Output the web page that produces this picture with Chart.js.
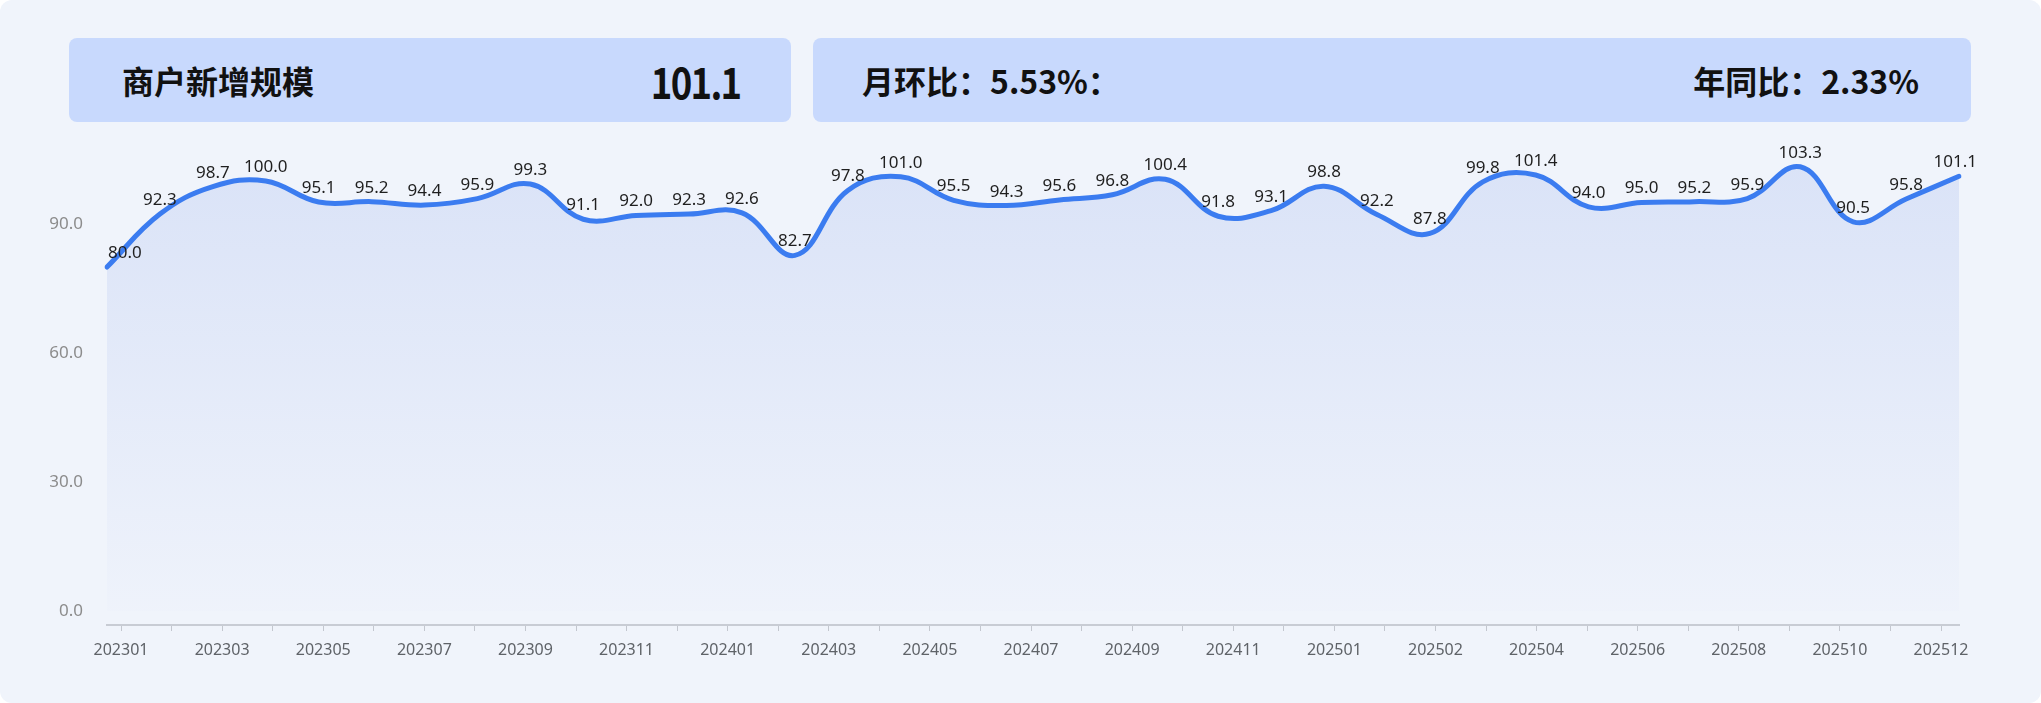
<!DOCTYPE html>
<html>
<head>
<meta charset="utf-8">
<script src="https://cdn.jsdelivr.net/npm/chart.js@4.4.1/dist/chart.umd.min.js"></script>
<style>
    html, body { margin: 0; padding: 0; background: #ffffff; }
    #card {
        position: absolute; left: 0; top: 0; width: 2041px; height: 703px;
        background: #f0f4fb; border-radius: 12px; overflow: hidden;
    }
    .box {
        position: absolute; top: 38px; height: 84px; background: #c8d9fd; border-radius: 8px;
        display: flex; align-items: center; justify-content: space-between;
        font-family: "Noto Sans CJK SC", "Noto Sans", sans-serif; font-weight: bold;
        color: #111; font-size: 32px; box-sizing: border-box;
    }
    #box1 { left: 69px; width: 722px; padding: 0 49px 0 53px; }
    #box1 .big {
        font-size: 43px; letter-spacing: -2px; margin-right: 2px;
        display: inline-block; transform: scaleX(0.85); transform-origin: right center;
    }
    #box2 { left: 813px; width: 1158px; padding: 0 52px 0 49px; }
    #chartWrap { position: absolute; left: 0; top: 0; width: 2041px; height: 703px; }
</style>
</head>
<body>
<div id="card">
    <div class="box" id="box1"><span>商户新增规模</span><span class="big">101.1</span></div>
    <div class="box" id="box2"><span>月环比：5.53%：</span><span>年同比：2.33%</span></div>
    <div id="chartWrap"><canvas id="trendChart" width="2041" height="703"></canvas></div>
</div>
<script>
// chart data
const months = ['202301', '202302', '202303', '202304', '202305', '202306', '202307', '202308', '202309', '202310', '202311', '202312',
    '202401', '202402', '202403', '202404', '202405', '202406', '202407', '202408', '202409', '202410', '202411', '202412',
    '202501', '202502', '202503', '202504', '202505', '202506', '202507', '202508', '202509', '202510', '202511', '202512'];
const scaleValues = [80.0, 92.3, 98.7, 100.0, 95.1, 95.2, 94.4, 95.9, 99.3, 91.1, 92.0, 92.3,
    92.6, 82.7, 97.8, 101.0, 95.5, 94.3, 95.6, 96.8, 100.4, 91.8, 93.1, 98.8,
    92.2, 87.8, 99.8, 101.4, 94.0, 95.0, 95.2, 95.9, 103.3, 90.5, 95.8, 101.1];
// labels printed under the axis, one on every second tick
const axisLabels = ['202301', '202303', '202305', '202307', '202309', '202311', '202401', '202403', '202405', '202407',
    '202409', '202411', '202501', '202502', '202504', '202506', '202508', '202510', '202512'];

const valueLabels = {
    id: 'valueLabels',
    afterDatasetsDraw(chart) {
        const ctx = chart.ctx;
        const meta = chart.getDatasetMeta(0);
        const area = chart.chartArea;
        ctx.save();
        ctx.font = '17px "Noto Sans", sans-serif';
        ctx.fillStyle = '#1f1f1f';
        ctx.textAlign = 'center';
        ctx.textBaseline = 'alphabetic';
        meta.data.forEach((pt, i) => {
            const txt = scaleValues[i].toFixed(1);
            const w = ctx.measureText(txt).width;
            let x = pt.x;
            x = Math.max(x, area.left + w / 2 + 1);
            x = Math.min(x, area.right + 18 - w / 2);
            ctx.fillText(txt, x, pt.y - 9);
        });
        ctx.restore();
    }
};

document.addEventListener('DOMContentLoaded', () => {
    const ctx = document.getElementById('trendChart').getContext('2d');
    new Chart(ctx, {
        type: 'line',
        data: {
            labels: months,
            datasets: [{
                label: '商户新增规模',
                data: scaleValues,
                borderColor: '#3b7cf0',
                borderWidth: 5,
                borderCapStyle: 'round',
                tension: 0.4,
                pointRadius: 0,
                fill: 'origin',
                backgroundColor: (c) => {
                    const area = c.chart.chartArea;
                    if (!area) return 'rgba(220,229,248,0.8)';
                    const g = c.chart.ctx.createLinearGradient(0, area.top, 0, area.bottom);
                    g.addColorStop(0, '#d9e2f7');
                    g.addColorStop(1, '#eff3fb');
                    return g;
                }
            }]
        },
        options: {
            responsive: false,
            animation: false,
            layout: { padding: { left: 0, right: 82, top: 138, bottom: 0 } },
            plugins: {
                legend: { display: false },
                tooltip: { enabled: false }
            },
            scales: {
                x: { display: false, offset: false },
                x2: {
                    type: 'linear',
                    position: 'bottom',
                    min: -0.277,
                    max: 36.356,
                    afterFit(scale) { scale.height = 78; },
                    grid: { display: true, drawOnChartArea: false, drawTicks: true, tickLength: 6, color: '#c3c7cf', lineWidth: 1 },
                    border: { display: true, color: '#c8ccd4', width: 2 },
                    ticks: {
                        stepSize: 1,
                        maxTicksLimit: 100,
                        includeBounds: false,
                        autoSkip: false,
                        maxRotation: 0,
                        padding: 10,
                        color: '#5f6368',
                        font: { family: '"Noto Sans", sans-serif', size: 16 },
                        callback: (v) => (v % 2 === 0 ? axisLabels[v / 2] : '')
                    }
                },
                y: {
                    min: -3.26,
                    max: 110,
                    afterFit(scale) { scale.width = 107; },
                    grid: { display: false },
                    border: { display: false },
                    ticks: {
                        stepSize: 30,
                        includeBounds: false,
                        padding: 16,
                        color: '#8c8c8c',
                        font: { family: '"Noto Sans", sans-serif', size: 17 },
                        callback: (v) => v.toFixed(1)
                    }
                }
            }
        },
        plugins: [valueLabels]
    });
});
</script>
</body>
</html>
